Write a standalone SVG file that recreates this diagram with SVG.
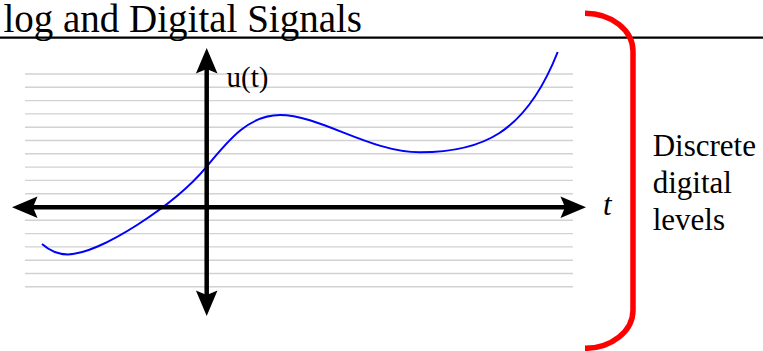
<svg xmlns="http://www.w3.org/2000/svg" width="763" height="351" viewBox="0 0 763 351">
<style>
.t{font-family:"Liberation Serif",Tinos,"Times New Roman",Times,"Noto Serif","DejaVu Serif",serif;fill:#000}
.grid line{stroke:#d2d2d2;stroke-width:1.4}
.axis{stroke:#000;stroke-width:4.5;fill:none}
.head{fill:#000}
</style>
<rect width="763" height="351" fill="#fff"/>
<g id="title">
<text class="t" x="362" y="31.5" font-size="39" text-anchor="end">log and Digital Signals</text>
<line x1="0" y1="37.7" x2="763" y2="37.7" stroke="#000" stroke-width="2.2"/>
</g>
<g id="levels" class="grid">
<line x1="25" y1="74" x2="573" y2="74"/>
<line x1="25" y1="87.3" x2="573" y2="87.3"/>
<line x1="25" y1="100.6" x2="573" y2="100.6"/>
<line x1="25" y1="113.9" x2="573" y2="113.9"/>
<line x1="25" y1="127.2" x2="573" y2="127.2"/>
<line x1="25" y1="140.5" x2="573" y2="140.5"/>
<line x1="25" y1="153.8" x2="573" y2="153.8"/>
<line x1="25" y1="167.1" x2="573" y2="167.1"/>
<line x1="25" y1="180.4" x2="573" y2="180.4"/>
<line x1="25" y1="193.7" x2="573" y2="193.7"/>
<line x1="25" y1="207" x2="573" y2="207"/>
<line x1="25" y1="220.3" x2="573" y2="220.3"/>
<line x1="25" y1="233.6" x2="573" y2="233.6"/>
<line x1="25" y1="246.9" x2="573" y2="246.9"/>
<line x1="25" y1="260.2" x2="573" y2="260.2"/>
<line x1="25" y1="273.5" x2="573" y2="273.5"/>
<line x1="25" y1="286.8" x2="573" y2="286.8"/>
</g>
<g id="signal">
<path d="M42,244 C50,251 58,254.5 68,254.5 C100,254 175,205 206.7,166.7 C230,138 250,115 280,115 C320,115 370,152.3 420,152.3 C480,152.3 525,135 557.7,52" fill="none" stroke="#0000ff" stroke-width="2"/>
</g>
<g id="axes">
<line class="axis" x1="206.7" y1="66" x2="206.7" y2="298"/>
<line class="axis" x1="30" y1="207.3" x2="568" y2="207.3"/>
<path class="head" d="M206.7,48 L217.5,73.5 L206.7,69 L195.9,73.5 Z"/>
<path class="head" d="M206.7,316 L217.5,290.5 L206.7,295 L195.9,290.5 Z"/>
<path class="head" d="M12,207.3 L37.5,196.5 L33,207.3 L37.5,218.1 Z"/>
<path class="head" d="M586,207.3 L560.5,196.5 L565,207.3 L560.5,218.1 Z"/>
</g>
<g id="labels">
<text class="t" x="226.5" y="87" font-size="29">u(t)</text>
<text class="t" x="603" y="215" font-size="31" font-style="italic">t</text>
</g>
<g id="bracket">
<path d="M585,13.3 A48,38 0 0 1 633,51.3 V310.3 A48,38 0 0 1 585,348.3" fill="none" stroke="#ff0000" stroke-width="5.5"/>
</g>
<g id="bracket-label">
<text class="t" font-size="31"><tspan x="652.7" y="156">Discrete</tspan><tspan x="652.7" y="193">digital</tspan><tspan x="652.7" y="230">levels</tspan></text>
</g>
</svg>
